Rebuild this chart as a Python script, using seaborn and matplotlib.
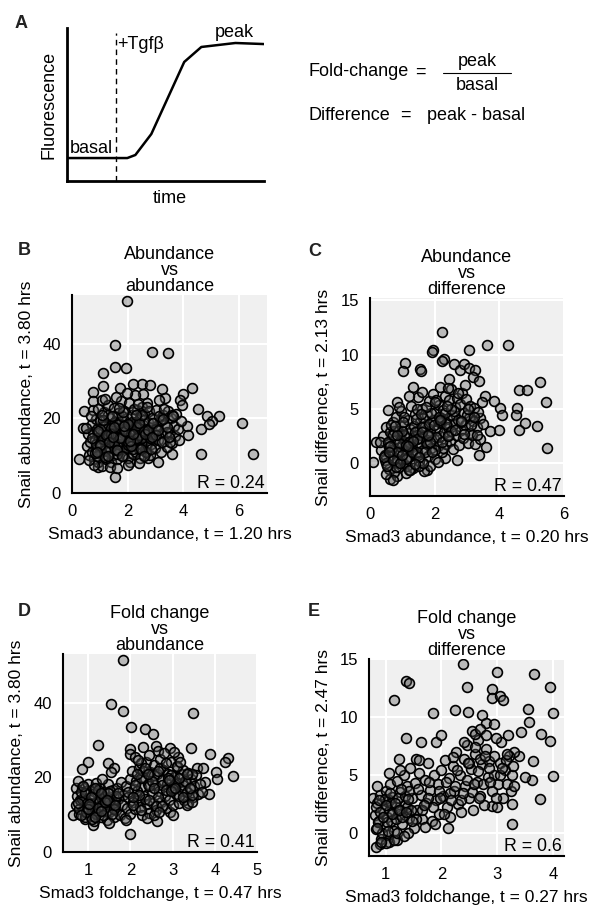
import matplotlib
matplotlib.use("Agg")
import matplotlib.pyplot as plt
import seaborn as sns
import pandas as pd
from matplotlib.lines import Line2D

sns.set_theme(style="white")
plt.rcParams['font.family'] = ['Liberation Sans', 'DejaVu Sans']
plt.rcParams['text.color'] = 'black'
plt.rcParams['axes.labelcolor'] = 'black'
plt.rcParams['xtick.color'] = 'black'
plt.rcParams['ytick.color'] = 'black'

# ---------------- data ----------------
# Panel A schematic curve
curve_time = [0, 3.06, 3.47, 4.28, 5.95, 6.82, 8.55, 10]
curve_fluor = [1.5, 1.5, 1.7, 3.07, 7.78, 8.76, 9.02, 8.95]
tgf_time = 2.49

# Panel B: Smad3 abundance (t=1.20) vs Snail abundance (t=3.80)
B_x = [1.99, 1.54, 2.86, 3.44, 1.54, 1.94, 1.13, 1.13, 0.77, 4.30, 4.00, 3.88, 4.54, 4.84, 5.29, 5.01, 4.63, 6.12, 4.63, 6.51,
       0.26, 0.38, 0.44, 0.74, 1.54, 4.12, 3.10, 3.60, 2.74, 2.09, 0.94, 0.77, 1.07, 3.22, 2.50, 2.20, 1.72, 2.80, 2.56, 3.34,
       4.90, 4.15, 3.95,
       0.55, 0.58, 0.62, 0.66, 0.70, 0.73, 0.76, 0.80, 0.83, 0.86, 0.88, 0.91, 0.94, 0.97, 1.00, 1.02, 1.05, 1.07, 1.10, 1.12,
       1.15, 1.17, 1.20, 1.22, 1.25, 1.27, 1.30, 1.32, 1.35, 1.37, 1.40, 1.42, 1.45, 1.47, 1.50, 1.52, 1.55, 1.57, 1.60, 1.62,
       1.65, 1.67, 1.70, 1.72, 1.75, 1.77, 1.80, 1.82, 1.85, 1.87, 1.90, 1.92, 1.95, 1.97, 2.00, 2.03, 2.05, 2.08, 2.10, 2.13,
       2.15, 2.18, 2.20, 2.23, 2.25, 2.28, 2.30, 2.33, 2.35, 2.38, 2.40, 2.43, 2.45, 2.48, 2.50, 2.53, 2.55, 2.58, 2.60, 2.63,
       2.65, 2.68, 2.70, 2.73, 2.75, 2.78, 2.80, 2.83, 2.85, 2.88, 2.92, 2.97, 3.00, 3.04, 3.08, 3.12, 3.15, 3.18, 3.22, 3.26,
       3.30, 3.34, 3.40, 3.45, 3.50, 3.55, 3.60, 3.65, 3.70, 3.75, 3.80, 3.85, 3.90, 0.68, 1.18, 0.78, 1.36, 1.62, 0.52, 0.60,
       2.02, 2.40, 1.28, 0.95,
       0.85, 0.95, 1.05, 1.15, 1.25, 1.35, 1.45, 1.55, 1.65, 1.75, 1.85, 1.95, 2.05, 2.15, 2.25, 2.35, 2.45, 2.55, 2.65, 2.75,
       0.90, 1.00, 1.10, 1.20, 1.30, 1.40, 1.50, 1.60, 1.70, 1.80, 1.90, 2.00, 2.10, 2.20, 2.30, 2.40, 2.50, 2.60, 2.70, 2.90,
       1.00, 1.20, 1.40, 1.60, 1.80, 2.00, 2.20, 2.40, 2.60, 2.80, 3.00, 3.20, 3.40, 3.60]
B_y = [51.5, 39.7, 37.8, 37.5, 33.8, 33.4, 32.0, 28.6, 27.0, 28.2, 26.4, 25.0, 22.5, 20.5, 20.7, 19.2, 17.0, 18.7, 10.5, 10.5,
       9.1, 17.4, 21.9, 22.3, 4.4, 18.0, 8.3, 10.4, 9.3, 8.3, 6.9, 24.6, 25.0, 27.9, 29.3, 29.3, 28.2, 29.0, 26.4, 25.5,
       18.5, 15.5, 23.5,
       12.5, 15.8, 10.2, 13.6, 18.4, 11.1, 16.2, 9.0, 14.3, 19.8, 12.0, 17.1, 8.2, 15.0, 11.3, 19.2, 13.4, 7.3, 16.3, 10.1,
       21.8, 14.2, 18.0, 9.1, 12.4, 17.0, 23.6, 11.0, 15.2, 20.1, 8.3, 13.1, 18.2, 10.3, 16.0, 22.8, 12.1, 14.4, 19.0, 9.2,
       21.3, 15.1, 11.2, 17.3, 24.6, 13.2, 19.4, 10.0, 16.1, 22.0, 12.3, 18.1, 14.0, 20.2, 9.5, 16.4, 24.0, 12.2, 18.3, 14.1,
       21.0, 10.4, 17.2, 13.0, 26.2, 19.1, 11.1, 15.3, 22.2, 17.0, 13.3, 20.0, 9.4, 16.2, 23.1, 12.0, 18.2, 14.3, 21.1, 11.2,
       17.1, 24.1, 13.1, 19.0, 15.2, 22.0, 10.2, 17.3, 13.0, 20.1, 16.0, 12.1, 22.1, 18.0, 14.2, 24.8, 19.2, 11.0, 16.1, 21.0,
       14.0, 18.1, 12.2, 22.0, 16.2, 20.1, 13.3, 18.0, 15.2, 21.1, 17.0, 14.1, 19.3, 20.5, 25.2, 7.6, 7.0, 6.8, 17.5, 8.8,
       7.5, 7.9, 20.8, 22.5,
       13.0, 16.0, 11.0, 18.0, 14.0, 12.0, 16.0, 19.0, 13.0, 15.0, 17.0, 12.0, 14.0, 19.0, 16.0, 13.0, 18.0, 15.0, 11.0, 16.0,
       10.0, 12.5, 14.5, 11.5, 15.5, 17.5, 13.5, 10.5, 18.5, 14.8, 16.5, 12.8, 15.8, 13.8, 17.8, 11.8, 14.6, 19.6, 16.8, 18.8,
       17.0, 9.6, 15.8, 11.6, 20.6, 13.6, 11.9, 15.6, 16.6, 14.6, 17.2, 19.6, 16.4, 20.9]
B_x_core2 = [0.72, 0.82, 0.92, 1.02, 1.12, 1.22, 1.32, 1.42, 1.52, 1.62, 1.72, 1.82, 1.92, 2.02, 2.12, 2.22, 2.32, 2.42,
             2.52, 2.62, 2.72, 2.82, 2.92, 3.02, 3.12, 3.22, 3.32, 3.42, 3.52, 3.62,
             0.88, 1.08, 1.28, 1.48, 1.68, 1.88, 2.08, 2.28, 2.48, 2.68, 2.88, 3.08, 3.28, 3.48, 1.58, 1.78, 1.98, 2.18,
             2.38, 2.58]
B_y_core2 = [14.8, 10.6, 16.6, 12.8, 19.6, 15.6, 13.6, 20.6, 17.6, 11.6, 14.6, 21.6, 16.6, 18.6, 12.6, 22.6, 14.6, 18.8,
             20.8, 15.8, 16.8, 11.8, 18.8, 15.6, 20.6, 13.6, 22.6, 17.6, 13.6, 20.6,
             11.0, 21.0, 9.8, 14.9, 22.8, 17.9, 13.9, 20.9, 11.9, 22.9, 14.9, 16.9, 19.9, 14.9, 25.8, 9.8, 26.8, 15.9,
             23.9, 9.9]

# Panel C: Smad3 abundance (t=0.20) vs Snail difference (t=2.13)
C_x = [2.22, 1.96, 1.91, 2.28, 2.22, 1.09, 1.01, 1.55, 1.57, 3.05, 3.62, 4.26, 2.59, 2.77, 2.92, 3.05, 3.26, 2.43, 3.20, 3.36,
       5.27, 4.60, 4.86, 5.45, 4.55, 4.50, 4.78, 5.17, 4.60, 5.48, 4.01, 4.09, 3.98, 3.57, 3.83, 0.10, 0.19, 0.83, 0.57, 0.62,
       0.83, 1.76, 1.34, 3.60, 3.36, 2.69, 2.33, 3.70, 3.40, 3.10,
       0.35, 0.40, 0.45, 0.50, 0.55, 0.60, 0.62, 0.66, 0.70, 0.72, 0.75, 0.78, 0.80, 0.83, 0.86, 0.88, 0.91, 0.94, 0.97, 1.00,
       1.02, 1.05, 1.08, 1.10, 1.13, 1.16, 1.19, 1.22, 1.25, 1.28, 1.30, 1.33, 1.36, 1.39, 1.42, 1.45, 1.48, 1.50, 1.53, 1.56,
       1.59, 1.62, 1.65, 1.68, 1.70, 1.73, 1.76, 1.79, 1.82, 1.85, 1.88, 1.91, 1.94, 1.97, 2.00, 2.03, 2.06, 2.09, 2.12, 2.15,
       2.18, 2.21, 2.24, 2.27, 2.30, 2.33, 2.36, 2.39, 2.42, 2.45, 2.48, 2.51, 2.54, 2.57, 2.60, 2.63, 2.66, 2.69, 2.72, 2.75,
       2.78, 2.81, 2.84, 2.87, 2.90, 2.94, 2.98, 3.02, 3.06, 3.10, 3.14, 3.18, 3.22, 3.26, 3.30, 3.35, 3.40, 3.45, 3.50, 0.48,
       0.70, 1.15, 1.85, 2.10, 0.30, 0.90, 1.20, 1.60, 2.40, 2.95, 1.45,
       0.45, 0.55, 0.65, 0.75, 0.85, 0.95, 1.05, 1.15, 1.25, 1.35, 1.45, 1.55, 1.65, 1.75, 1.85, 1.95, 2.05, 2.15, 2.25, 2.35,
       0.50, 0.60, 0.70, 0.80, 0.90, 1.00, 1.10, 1.20, 1.30, 1.40, 1.50, 1.60, 1.70, 1.80, 1.90, 2.00, 2.20, 2.40, 2.60, 2.80,
       0.65, 0.85, 1.05, 1.25, 1.45, 1.65, 1.85, 2.05, 2.50, 3.00]
C_y = [12.1, 10.4, 10.2, 9.6, 9.4, 9.2, 8.5, 8.7, 8.5, 10.4, 10.9, 10.9, 9.1, 8.6, 9.1, 8.8, 8.6, 7.8, 7.9, 7.6,
       7.5, 6.7, 6.7, 5.6, 5.1, 4.4, 3.7, 3.4, 3.1, 1.4, 5.1, 4.4, 3.1, 6.2, 5.7, 0.1, 2.0, 5.6, 4.9, -1.4,
       -1.2, -0.6, 7.0, 1.5, 0.8, 0.3, 0.5, 3.0, 4.2, 2.8,
       1.2, 2.5, 0.3, 3.3, 1.8, -0.5, 2.9, 0.8, 3.8, 1.5, -0.8, 2.2, 4.3, 0.4, 3.0, 1.1, -0.3, 2.6, 4.8, 1.7,
       0.0, 3.5, 2.0, -0.9, 1.2, 4.0, 2.8, 0.6, 3.2, 5.3, 1.5, -0.4, 2.4, 4.5, 0.9, 3.0, 6.1, 1.9, 0.2, 3.8,
       2.6, 5.0, 1.2, -0.7, 3.4, 2.0, 4.4, 0.7, 5.7, 2.8, 1.4, 3.9, 6.4, 2.2, 0.4, 4.7, 3.1, 1.6, 5.4, 2.5,
       7.0, 3.7, 1.0, 4.9, 2.9, 6.2, 1.8, 4.1, 3.3, 5.8, 2.1, 6.8, 4.4, 1.3, 3.6, 5.2, 2.6, 6.0, 4.0, 1.7,
       5.5, 3.1, 6.5, 2.3, 4.6, 3.5, 5.9, 1.9, 4.2, 5.3, 2.6, 3.9, 5.1, 1.8, 3.3, 4.7, 2.2, 5.6, 3.6, -1.0,
       -1.5, -0.2, -0.2, 0.1, 2.0, 5.2, 6.2, 6.6, 6.9, 7.2, 5.0,
       0.8, 2.0, 1.2, 3.0, 0.2, 1.5, 2.6, 0.5, 1.9, 3.4, 1.0, 2.3, 4.2, 1.8, 3.0, 4.0, 2.4, 3.8, 1.4, 3.6,
       0.0, 1.5, 2.6, -0.3, 1.9, 3.0, 0.4, 2.0, 1.0, 2.9, -0.2, 3.3, 1.0, 2.5, 4.6, 1.2, 4.2, 2.6, 4.8, 3.8,
       3.5, 1.0, 4.3, -0.6, 2.2, 0.0, 2.0, 5.8, 3.0, 4.4]
C_x_core2 = [0.42, 0.52, 0.62, 0.72, 0.82, 0.92, 1.02, 1.12, 1.22, 1.32, 1.42, 1.52, 1.62, 1.72, 1.82, 1.92, 2.02, 2.12,
             2.22, 2.32, 2.42, 2.52, 2.62, 2.72, 2.82, 2.92, 3.02, 3.12, 3.22, 3.32,
             0.58, 0.78, 0.98, 1.18, 1.38, 1.58, 1.78, 1.98, 2.18, 2.38]
C_y_core2 = [0.6, -0.2, 1.6, 0.3, 2.6, 0.0, 3.8, 1.7, -0.6, 2.1, 4.1, 0.6, 2.9, 5.2, 3.6, 1.0, 5.6, 4.3,
             2.0, 4.6, 2.5, 5.0, 3.1, 6.5, 3.9, 2.7, 5.0, 3.5, 4.3, 2.6,
             1.0, 3.4, 0.8, 1.6, -0.1, 4.5, 2.6, 3.5, 4.0, 5.3]

# Panel D: Smad3 foldchange (t=0.47) vs Snail abundance (t=3.80)
D_x = [1.83, 1.54, 1.83, 3.49, 2.01, 2.35, 2.54, 1.24, 1.00, 0.84, 1.47, 1.60, 1.54, 3.89, 4.32, 4.24, 4.43, 4.03, 4.04, 3.43,
       3.13, 3.57, 3.73, 3.77, 3.87, 2.00, 0.64, 0.72, 2.94, 2.62, 1.12, 2.00, 2.30, 2.60, 2.94, 3.04, 3.49, 3.36, 2.00, 2.65,
       0.70, 0.74, 0.78, 0.80, 0.84, 0.87, 0.90, 0.92, 0.95, 0.98, 1.00, 1.03, 1.05, 1.08, 1.10, 1.13, 1.15, 1.18, 1.20, 1.23,
       1.25, 1.28, 1.30, 1.33, 1.36, 1.38, 1.41, 1.44, 1.46, 1.49, 1.52, 1.55, 1.58, 1.60, 1.63, 1.66, 1.68, 1.71, 1.74, 1.77,
       1.80, 1.83, 1.86, 1.89, 1.92, 1.95, 1.98, 2.00, 2.03, 2.06, 2.08, 2.11, 2.14, 2.17, 2.20, 2.22, 2.25, 2.28, 2.30, 2.33,
       2.36, 2.39, 2.42, 2.44, 2.47, 2.50, 2.53, 2.56, 2.58, 2.61, 2.64, 2.67, 2.70, 2.72, 2.75, 2.78, 2.81, 2.84, 2.86, 2.89,
       2.92, 2.95, 2.98, 3.01, 3.04, 3.07, 3.10, 3.13, 3.16, 3.19, 3.22, 3.25, 3.28, 3.31, 3.34, 3.37, 3.40, 3.43, 3.46, 3.50,
       3.55, 3.60, 3.65, 3.70, 2.10, 2.25, 2.45, 2.80, 1.90, 2.40, 1.50, 0.76, 1.32, 2.55, 3.00,
       0.78, 0.85, 0.92, 0.98, 1.05, 1.12, 1.18, 1.25, 1.32, 1.38, 1.45, 1.52, 1.58, 1.65,
       0.82, 0.95, 1.08, 1.22, 1.35, 1.48, 1.62,
       2.05, 2.15, 2.25, 2.35, 2.45, 2.55, 2.65, 2.75, 2.85, 2.95, 3.05, 3.15, 3.25, 3.35, 3.45,
       2.10, 2.30, 2.50, 2.70, 2.90, 3.10, 3.30, 2.20, 2.60, 3.00]
D_y = [51.3, 39.6, 37.8, 37.3, 33.4, 33.0, 31.7, 28.6, 24.2, 22.1, 23.8, 22.4, 21.3, 26.3, 25.2, 24.0, 20.4, 21.3, 19.6, 27.9,
       25.4, 22.6, 22.5, 18.7, 15.4, 4.7, 9.8, 17.0, 10.7, 8.2, 7.1, 27.5, 28.0, 28.3, 27.9, 26.8, 14.6, 13.0, 26.3, 27.0,
       12.5, 15.0, 10.3, 13.8, 17.5, 11.2, 14.5, 8.8, 16.3, 12.0, 18.3, 9.7, 14.0, 11.4, 16.8, 8.2, 13.0, 18.6, 10.5, 15.4,
       12.2, 17.2, 9.3, 14.1, 11.0, 16.0, 12.8, 8.6, 18.1, 10.8, 14.8, 12.0, 16.5, 9.5, 13.4, 11.3, 17.0, 14.2, 10.0, 18.8,
       12.5, 15.3, 9.0, 17.6, 11.8, 14.6, 19.5, 10.2, 21.8, 13.5, 16.8, 11.5, 19.0, 14.0, 22.5, 12.0, 17.5, 9.8, 20.2, 15.0,
       24.0, 12.8, 18.3, 10.5, 21.5, 15.8, 13.0, 23.2, 18.0, 11.2, 20.8, 16.2, 25.0, 13.5, 19.2, 22.0, 15.0, 11.8, 18.2, 21.0,
       14.0, 24.2, 17.0, 12.5, 20.0, 15.5, 22.8, 18.5, 13.2, 20.8, 16.3, 22.0, 14.0, 18.8, 12.5, 21.2, 16.8, 19.5, 13.5, 17.8,
       20.5, 15.5, 18.2, 16.0, 25.5, 23.8, 26.0, 26.5, 8.5, 9.0, 7.8, 19.0, 19.5, 10.0, 9.8,
       11.5, 14.2, 9.5, 13.0, 12.3, 15.5, 10.2, 13.8, 12.6, 14.8, 11.0, 16.4, 13.2, 15.0,
       16.0, 10.8, 8.8, 11.8, 9.9, 13.6, 11.6,
       12.5, 16.2, 19.8, 14.3, 17.6, 20.5, 14.8, 18.0, 16.5, 20.6, 18.2, 15.0, 18.0, 16.0, 21.0,
       18.0, 21.8, 18.9, 22.6, 19.8, 23.0, 19.0, 15.2, 12.2, 16.8]
D_x_core2 = [0.75, 0.83, 0.91, 0.99, 1.07, 1.15, 1.23, 1.31, 1.39, 1.47, 1.55, 1.63, 1.71, 0.88, 1.02, 1.16, 1.30, 1.44,
             1.95, 2.05, 2.15, 2.25, 2.35, 2.45, 2.55, 2.65, 2.75, 2.85, 2.95, 3.05, 3.15, 3.25, 3.35, 3.45,
             2.18, 2.42, 2.68, 2.92, 3.18, 3.42]
D_y_core2 = [13.2, 10.0, 15.8, 11.6, 14.6, 9.4, 16.6, 10.9, 13.3, 15.9, 10.3, 12.6, 15.8, 17.8, 12.8, 17.2, 15.8, 13.9,
             16.0, 14.8, 21.0, 11.2, 22.4, 13.8, 17.0, 21.6, 12.2, 23.8, 16.4, 17.2, 19.8, 14.8, 20.8, 15.2,
             24.5, 20.8, 10.8, 19.2, 24.2, 17.2]

# Panel E: Smad3 foldchange (t=0.27) vs Snail difference (t=2.47)
E_x = [2.39, 3.00, 3.67, 1.36, 1.41, 2.45, 3.94, 1.15, 2.90, 2.90, 3.06, 3.10, 1.84, 2.24, 2.48, 4.00, 3.55, 3.58, 2.73, 2.80,
       2.95, 1.36, 1.64, 1.90, 1.99, 3.79, 3.94, 3.43, 3.19, 3.07, 1.23, 1.55, 4.00, 3.63, 3.64, 3.77, 3.27, 2.12, 0.90, 1.06,
       0.77, 3.27, 3.24, 2.90, 2.99, 3.40, 3.30, 3.50, 2.55,
       0.80, 0.83, 0.85, 0.88, 0.90, 0.92, 0.95, 0.97, 1.00, 1.02, 1.04, 1.06, 1.08, 1.10, 1.12, 1.15, 1.18, 1.20, 1.23, 1.26,
       1.29, 1.32, 1.35, 1.38, 1.41, 1.44, 1.47, 1.50, 1.53, 1.56, 1.60, 1.63, 1.66, 1.70, 1.73, 1.76, 1.80, 1.83, 1.86, 1.90,
       1.93, 1.96, 2.00, 2.03, 2.06, 2.10, 2.13, 2.16, 2.20, 2.23, 2.26, 2.30, 2.33, 2.36, 2.40, 2.43, 2.46, 2.50, 2.53, 2.56,
       2.60, 2.63, 2.66, 2.70, 2.73, 2.76, 2.80, 2.83, 2.86, 2.90, 2.94, 2.98, 3.02, 3.06, 3.10, 3.14, 3.18, 3.22, 3.26, 3.30,
       0.82, 1.00, 1.20, 1.40, 1.70, 2.60, 2.70, 2.40, 2.20, 1.60, 1.25, 0.85, 1.05,
       0.82, 0.86, 0.90, 0.94, 0.98, 1.02, 1.06, 1.10, 1.14, 1.18, 1.22, 1.26, 1.30, 1.34, 1.38, 1.42, 1.46,
       1.55, 1.65, 1.75, 1.85, 1.95, 2.05, 2.15, 2.25, 2.35, 2.45, 2.55, 2.65, 2.75, 2.85, 2.95, 3.05, 3.15,
       2.50, 2.60, 2.70, 2.80]
E_y = [14.6, 13.9, 13.7, 13.1, 12.9, 12.6, 12.6, 11.5, 12.4, 11.6, 11.8, 11.5, 10.3, 10.6, 10.4, 10.3, 10.7, 9.6, 10.2, 9.5,
       9.4, 8.2, 7.8, 7.8, 8.4, 8.5, 7.9, 8.7, 8.4, 7.8, 6.4, 6.4, 4.9, 4.6, 6.2, 2.9, 0.8, 0.4, -1.0, -0.8,
       3.0, 2.5, 3.6, 2.3, 2.2, 6.6, 7.0, 4.8, 8.8,
       1.5, 0.3, 2.6, 1.0, 3.3, -0.5, 2.0, 0.6, 3.6, 1.4, -0.2, 2.8, 4.2, 1.0, 3.1, 0.2, 2.2, 4.5, 1.6, 3.5,
       0.8, 5.0, 2.4, 4.0, 1.3, 5.6, 3.0, 0.4, 4.3, 2.0, 5.2, 3.3, 1.2, 4.6, 2.6, 6.0, 3.7, 1.0, 5.0, 2.8,
       4.2, 1.6, 5.4, 3.2, 6.3, 2.2, 4.7, 1.4, 5.8, 3.6, 7.0, 2.5, 5.0, 1.8, 6.4, 4.0, 7.6, 3.0, 5.5, 2.0,
       6.8, 4.4, 8.0, 3.2, 5.9, 2.4, 7.2, 4.8, 6.2, 3.6, 5.0, 8.2, 4.2, 6.0, 3.0, 5.4, 4.2, 6.6, 5.0, 4.0,
       -1.2, -0.9, -0.6, 0.0, 0.5, 8.5, 9.0, 7.8, 6.5, 6.3, 5.4, 4.0, 5.2,
       2.2, 0.9, 1.8, 0.0, 2.9, 0.9, 1.9, 2.6, -0.6, 1.2, 3.0, 2.0, 1.4, 3.2, 2.2, 3.6, 2.0,
       1.2, 2.0, 3.0, 2.2, 3.6, 1.6, 3.4, 4.0, 2.8, 4.6, 3.5, 5.3, 4.2, 5.6, 6.6, 5.0, 6.3,
       6.0, 7.4, 6.4, 8.4]
E_x_core2 = [0.84, 0.88, 0.92, 0.96, 1.00, 1.04, 1.08, 1.12, 1.16, 1.20, 1.24, 1.28, 1.32, 1.36, 1.40,
             1.48, 1.58, 1.68, 1.78, 1.88, 1.98, 2.08, 2.18, 2.28, 2.38, 2.48, 2.58, 2.68, 2.78, 2.88, 2.98, 3.08,
             3.18, 3.28]
E_y_core2 = [0.4, 2.8, -0.8, 1.4, 2.4, 0.2, 3.4, 1.6, 2.6, 0.0, 2.0, 3.8, -0.3, 1.8, 2.9,
             1.0, 3.8, 2.4, 4.4, 0.8, 3.0, 4.4, 2.8, 5.4, 3.4, 6.0, 4.2, 3.0, 6.6, 4.4, 3.0, 5.6,
             6.8, 5.8]

# ---------------- figure ----------------
W, H = 594, 911
fig = plt.figure(figsize=(W / 100, H / 100), dpi=100)
fig.patch.set_facecolor('white')


def ax_px(left, top, right, bottom):
    return fig.add_axes([left / W, 1 - bottom / H, (right - left) / W, (bottom - top) / H])


FS = 12.5
FSA = 13

# ---- Panel A ----
axA = ax_px(67, 28, 264, 181)
sns.lineplot(x=curve_time, y=curve_fluor, sort=False, color='black', linewidth=1.8, ax=axA)
axA.axvline(tgf_time, color='black', linewidth=1.0, linestyle=(0, (4, 3)), ymax=0.97)
axA.set_xlim(0, 10)
axA.set_ylim(0, 10)
axA.set_xticks([])
axA.set_yticks([])
for s in ['top', 'right']:
    axA.spines[s].set_visible(False)
for s in ['left', 'bottom']:
    axA.spines[s].set_linewidth(2)
    axA.spines[s].set_color('black')
axA.set_facecolor('white')
axA.set_ylabel('Fluorescence', fontsize=FSA)
axA.yaxis.set_label_coords(-0.05, 0.5)
axA.set_xlabel('time', fontsize=FSA)
axA.xaxis.set_label_coords(0.52, -0.06)
axA.text(0.15, 1.8, 'basal', fontsize=FSA, va='baseline', ha='left')
axA.text(2.55, 8.6, '+Tgfβ', fontsize=FSA, va='baseline', ha='left')
axA.text(7.5, 9.4, 'peak', fontsize=FSA, va='baseline', ha='left')

fig.text(308 / W, 1 - 72 / H, 'Fold-change', fontsize=FSA, va='center', ha='left')
fig.text(420 / W, 1 - 72 / H, '=', fontsize=FSA, va='center', ha='center')
fig.text(477 / W, 1 - 62 / H, 'peak', fontsize=FSA, va='center', ha='center')
fig.text(477 / W, 1 - 86 / H, 'basal', fontsize=FSA, va='center', ha='center')
fig.add_artist(Line2D([443 / W, 511 / W], [1 - 73 / H, 1 - 73 / H], color='black', linewidth=0.8))
fig.text(308 / W, 1 - 115 / H, 'Difference', fontsize=FSA, va='center', ha='left')
fig.text(405 / W, 1 - 115 / H, '=', fontsize=FSA, va='center', ha='center')
fig.text(427 / W, 1 - 115 / H, 'peak - basal', fontsize=FSA, va='center', ha='left')


# ---- scatter panels ----
def scatter_panel(ax, xs, ys, xlim, ylim, xticks, yticks, title, xlabel, ylabel, rtext, ylab_x):
    df = pd.DataFrame({'x': xs, 'y': ys})
    ax.set_facecolor('#f0f0f0')
    ax.set_axisbelow(True)
    ax.grid(True, color='white', linewidth=1.5)
    sns.scatterplot(data=df, x='x', y='y', ax=ax, s=50, color='#808080',
                    edgecolor='black', linewidth=1.2, legend=False, zorder=3)
    coll = ax.collections[-1]
    coll.set_facecolor((0.35, 0.35, 0.35, 0.36))
    coll.set_edgecolor('black')
    ax.set_xlim(*xlim)
    ax.set_ylim(*ylim)
    ax.set_xticks(xticks)
    ax.set_yticks(yticks)
    ax.tick_params(direction='in', length=3, width=1, color='black', labelsize=12, pad=8)
    for s in ['top', 'right']:
        ax.spines[s].set_visible(False)
    for s in ['left', 'bottom']:
        ax.spines[s].set_visible(True)
        ax.spines[s].set_color('black')
        ax.spines[s].set_linewidth(1.5)
    ax.set_title(title, fontsize=13, pad=3, linespacing=0.92)
    ax.set_xlabel(xlabel, fontsize=FS)
    ax.set_ylabel(ylabel, fontsize=FS)
    ax.xaxis.set_label_coords(0.5, -0.172)
    ax.yaxis.set_label_coords(ylab_x, 0.5)
    ax.text(0.99, 0.025, rtext, transform=ax.transAxes, ha='right', va='baseline', fontsize=12.8, zorder=5)


axB = ax_px(72, 295, 267, 493)
scatter_panel(axB, B_x + B_x_core2, B_y + B_y_core2, (0, 7), (0, 53), [0, 2, 4, 6], [0, 20, 40],
              'Abundance\nvs\nabundance', 'Smad3 abundance, t = 1.20 hrs',
              'Snail abundance, t = 3.80 hrs', 'R = 0.24', -0.195)

axC = ax_px(370, 298, 564, 496)
scatter_panel(axC, C_x + C_x_core2, C_y + C_y_core2, (0, 6), (-3, 15.2), [0, 2, 4, 6], [0, 5, 10, 15],
              'Abundance\nvs\ndifference', 'Smad3 abundance, t = 0.20 hrs',
              'Snail difference, t = 2.13 hrs', 'R = 0.47', -0.20)

axD = ax_px(63, 654, 257, 852)
scatter_panel(axD, D_x + D_x_core2, D_y + D_y_core2, (0.4, 5), (0, 53), [1, 2, 3, 4, 5], [0, 20, 40],
              'Fold change\nvs\nabundance', 'Smad3 foldchange, t = 0.47 hrs',
              'Snail abundance, t = 3.80 hrs', 'R = 0.41', -0.20)

axE = ax_px(369, 659, 564, 856)
scatter_panel(axE, E_x + E_x_core2, E_y + E_y_core2, (0.7, 4.2), (-2, 15), [1, 2, 3, 4], [0, 5, 10, 15],
              'Fold change\nvs\ndifference', 'Smad3 foldchange, t = 0.27 hrs',
              'Snail difference, t = 2.47 hrs', 'R = 0.6', -0.195)

# panel letters
for lab, (px, py) in {'A': (15, 15), 'B': (18, 242), 'C': (308, 243), 'D': (18, 603), 'E': (308, 603)}.items():
    fig.text(px / W, 1 - py / H, lab, fontsize=13, fontweight='bold', va='top', ha='left', color='#222222')

fig.savefig('out.png', dpi=100, facecolor='white')
